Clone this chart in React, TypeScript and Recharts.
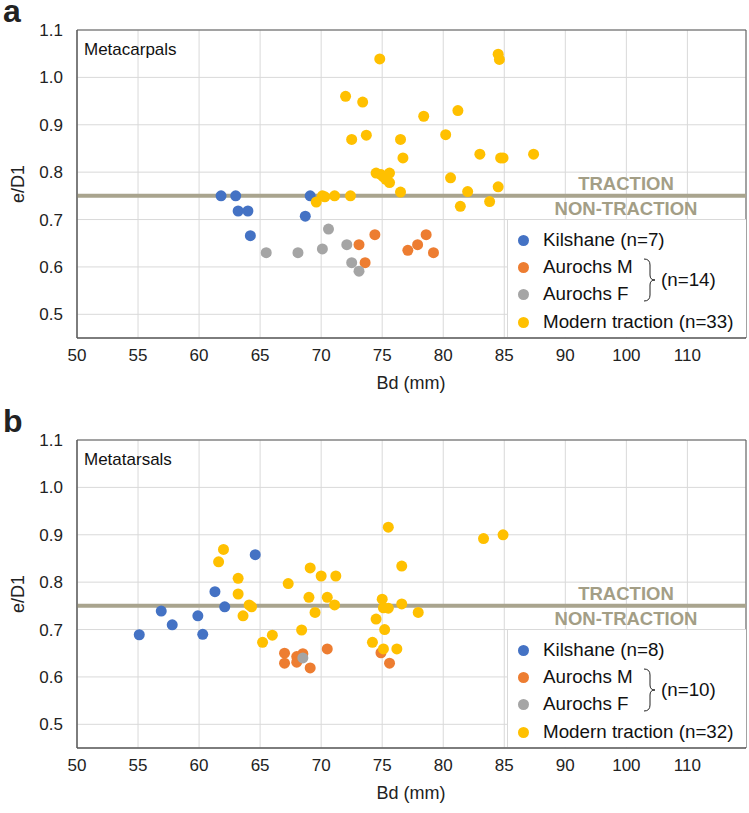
import React from 'react';
import {
  ScatterChart,
  Scatter,
  XAxis,
  YAxis,
  CartesianGrid,
  ReferenceLine,
  ReferenceArea,
} from 'recharts';

// 目盛り
const xTicks = [50, 55, 60, 65, 70, 75, 80, 85, 90, 95, 100];
const xTickLabels = ['50', '55', '60', '65', '70', '75', '80', '85', '90', '100', '110'];
const yTicks = [0.5, 0.6, 0.7, 0.8, 0.9, 1.0, 1.1];

// a: Metacarpals
const mcKilshane = [
  { x: 61.8, y: 0.75 }, { x: 63.0, y: 0.75 }, { x: 63.2, y: 0.718 }, { x: 64.0, y: 0.718 },
  { x: 64.2, y: 0.666 }, { x: 69.1, y: 0.75 }, { x: 68.7, y: 0.707 },
];
const mcAurochsM = [
  { x: 73.1, y: 0.647 }, { x: 73.6, y: 0.609 }, { x: 74.4, y: 0.668 }, { x: 77.1, y: 0.635 },
  { x: 77.9, y: 0.647 }, { x: 78.6, y: 0.668 }, { x: 79.2, y: 0.63 },
];
const mcAurochsF = [
  { x: 65.5, y: 0.63 }, { x: 68.1, y: 0.63 }, { x: 70.1, y: 0.638 }, { x: 70.6, y: 0.68 },
  { x: 72.1, y: 0.647 }, { x: 72.5, y: 0.609 }, { x: 73.1, y: 0.591 },
];
const mcModern = [
  { x: 74.8, y: 1.039 }, { x: 72.0, y: 0.96 }, { x: 73.4, y: 0.948 }, { x: 78.4, y: 0.918 },
  { x: 72.5, y: 0.869 }, { x: 73.7, y: 0.878 }, { x: 76.5, y: 0.869 }, { x: 76.7, y: 0.83 },
  { x: 74.5, y: 0.798 }, { x: 75.1, y: 0.79 }, { x: 75.6, y: 0.798 }, { x: 75.6, y: 0.778 },
  { x: 75.3, y: 0.785 }, { x: 74.9, y: 0.795 }, { x: 76.5, y: 0.758 }, { x: 69.6, y: 0.737 },
  { x: 70.1, y: 0.75 }, { x: 70.3, y: 0.748 }, { x: 71.1, y: 0.75 }, { x: 72.4, y: 0.75 },
  { x: 84.5, y: 1.049 }, { x: 84.6, y: 1.038 }, { x: 81.2, y: 0.93 }, { x: 80.2, y: 0.879 },
  { x: 83.0, y: 0.838 }, { x: 84.7, y: 0.83 }, { x: 84.9, y: 0.83 }, { x: 87.4, y: 0.838 },
  { x: 80.6, y: 0.788 }, { x: 82.0, y: 0.759 }, { x: 84.5, y: 0.769 }, { x: 81.4, y: 0.728 },
  { x: 83.8, y: 0.738 },
];

// b: Metatarsals
const mtKilshane = [
  { x: 55.1, y: 0.689 }, { x: 56.9, y: 0.739 }, { x: 57.8, y: 0.71 }, { x: 59.9, y: 0.729 },
  { x: 60.3, y: 0.69 }, { x: 61.3, y: 0.78 }, { x: 62.1, y: 0.748 }, { x: 64.6, y: 0.858 },
];
const mtAurochsM = [
  { x: 67.0, y: 0.65 }, { x: 67.0, y: 0.629 }, { x: 68.0, y: 0.643 }, { x: 68.0, y: 0.631 },
  { x: 68.5, y: 0.649 }, { x: 69.1, y: 0.619 }, { x: 70.5, y: 0.659 }, { x: 74.9, y: 0.651 },
  { x: 75.6, y: 0.629 },
];
const mtAurochsF = [{ x: 68.5, y: 0.64 }];
const mtModern = [
  { x: 62.0, y: 0.869 }, { x: 61.6, y: 0.843 }, { x: 63.2, y: 0.808 }, { x: 63.2, y: 0.775 },
  { x: 64.1, y: 0.752 }, { x: 64.3, y: 0.748 }, { x: 63.6, y: 0.729 }, { x: 67.3, y: 0.797 },
  { x: 65.2, y: 0.673 }, { x: 66.0, y: 0.688 }, { x: 68.4, y: 0.699 }, { x: 69.1, y: 0.83 },
  { x: 70.0, y: 0.813 }, { x: 71.2, y: 0.813 }, { x: 69.0, y: 0.768 }, { x: 70.5, y: 0.768 },
  { x: 71.1, y: 0.752 }, { x: 69.5, y: 0.736 }, { x: 75.5, y: 0.916 }, { x: 76.6, y: 0.834 },
  { x: 75.0, y: 0.764 }, { x: 75.1, y: 0.746 }, { x: 75.5, y: 0.745 }, { x: 76.6, y: 0.754 },
  { x: 77.95, y: 0.736 }, { x: 74.5, y: 0.722 }, { x: 75.2, y: 0.7 }, { x: 74.2, y: 0.673 },
  { x: 75.1, y: 0.659 }, { x: 76.2, y: 0.659 }, { x: 83.3, y: 0.892 }, { x: 84.9, y: 0.9 },
];

const COLORS = { kil: '#4472C4', am: '#ED7D31', af: '#A5A5A5', mod: '#FFC000' };
const LINE = '#a9a48e';
const FONT = '"Liberation Sans", Arial, sans-serif';
const X_MAX = 104.8;

const dot = (color: string) => (p: any) => <circle cx={p.cx} cy={p.cy} r={5.5} fill={color} />;

type PanelProps = {
  letter: string;
  title: string;
  kil: { x: number; y: number }[];
  am: { x: number; y: number }[];
  af: { x: number; y: number }[];
  mod: { x: number; y: number }[];
  kilLabel: string;
  aurochsN: string;
  modLabel: string;
  top: number;
};

const Panel = ({ letter, title, kil, am, af, mod, kilLabel, aurochsN, modLabel, top }: PanelProps) => {
  const legendRow = (color: string, label: string, y: number) => (
    <div style={{ position: 'absolute', left: 0, top: y, height: 20, display: 'flex', alignItems: 'center' }}>
      <span style={{ display: 'inline-block', width: 11, height: 11, borderRadius: '50%', background: color, marginLeft: 10 }} />
      <span style={{ marginLeft: 14, fontSize: 18.8, color: '#111', whiteSpace: 'nowrap' }}>{label}</span>
    </div>
  );

  return (
    <div style={{ position: 'absolute', left: 0, top, width: 749, height: 410, fontFamily: FONT }}>
      <ScatterChart width={749} height={400} margin={{ top: 30, right: 3, bottom: 0, left: 37 }}>
        <CartesianGrid stroke="#d9d9d9" />
        <XAxis
          type="number"
          dataKey="x"
          domain={[50, X_MAX]}
          ticks={xTicks}
          allowDataOverflow
          height={62}
          tickLine={false}
          tickSize={0}
          tickMargin={11}
          axisLine={{ stroke: '#595959' }}
          tick={{ fontSize: 17, fill: '#222', fontFamily: FONT }}
          tickFormatter={(v: number) => xTickLabels[xTicks.indexOf(v)] ?? String(v)}
        />
        <YAxis
          type="number"
          dataKey="y"
          domain={[0.45, 1.1]}
          ticks={yTicks}
          allowDataOverflow
          width={40}
          tickLine={false}
          tickSize={0}
          tickMargin={14}
          axisLine={{ stroke: '#595959' }}
          tick={{ fontSize: 17, fill: '#222', fontFamily: FONT }}
          tickFormatter={(v: number) => v.toFixed(1)}
        />
        <ReferenceArea x1={50} x2={X_MAX} y1={0.45} y2={1.1} fill="none" stroke="#595959" />
        <ReferenceLine y={0.75} stroke={LINE} strokeWidth={4} />
        <Scatter data={kil} shape={dot(COLORS.kil)} isAnimationActive={false} />
        <Scatter data={am} shape={dot(COLORS.am)} isAnimationActive={false} />
        <Scatter data={af} shape={dot(COLORS.af)} isAnimationActive={false} />
        <Scatter data={mod} shape={dot(COLORS.mod)} isAnimationActive={false} />
      </ScatterChart>

      {/* パネル文字・タイトル */}
      <div style={{ position: 'absolute', left: 3, top: 0, fontSize: 32, lineHeight: '22px', fontWeight: 'bold', color: '#222' }}>{letter}</div>
      <div style={{ position: 'absolute', left: 84, top: 40, fontSize: 17, color: '#111' }}>{title}</div>

      {/* 軸タイトル */}
      <div style={{ position: 'absolute', left: 411, top: 373, transform: 'translateX(-50%)', fontSize: 18, color: '#222', whiteSpace: 'nowrap' }}>Bd (mm)</div>
      <div style={{ position: 'absolute', left: 18, top: 184, transform: 'translate(-50%, -50%) rotate(-90deg)', fontSize: 18, color: '#222', whiteSpace: 'nowrap' }}>e/D1</div>

      {/* TRACTION / NON-TRACTION */}
      <div style={{ position: 'absolute', left: 626, top: 184, transform: 'translate(-50%, -50%)', fontSize: 18.5, fontWeight: 'bold', color: '#a39e86', whiteSpace: 'nowrap' }}>TRACTION</div>
      <div style={{ position: 'absolute', left: 626, top: 209, transform: 'translate(-50%, -50%)', fontSize: 18.5, fontWeight: 'bold', color: '#a39e86', whiteSpace: 'nowrap' }}>NON-TRACTION</div>

      {/* 凡例 */}
      <div style={{ position: 'absolute', left: 507, top: 219, width: 239, height: 118, background: '#fff', boxSizing: 'border-box', borderLeft: '1px solid #d9d9d9', borderTop: '1px solid #d9d9d9' }}>
        {legendRow(COLORS.kil, kilLabel, 10)}
        {legendRow(COLORS.am, 'Aurochs M', 37)}
        {legendRow(COLORS.af, 'Aurochs F', 64)}
        {legendRow(COLORS.mod, modLabel, 92)}
        <svg style={{ position: 'absolute', left: 134, top: 38 }} width={16} height={44}>
          <path d="M2 1 Q8 1 8 7 L8 17 Q8 22 13 22 Q8 22 8 27 L8 37 Q8 43 2 43" fill="none" stroke="#222" strokeWidth={1} />
        </svg>
        <div style={{ position: 'absolute', left: 153, top: 49, fontSize: 18.8, color: '#111', whiteSpace: 'nowrap' }}>{aurochsN}</div>
      </div>
    </div>
  );
};

export default function App() {
  return (
    <div style={{ position: 'absolute', left: 0, top: 0, width: 749, height: 813, background: '#fff' }}>
      <Panel
        letter="a"
        title="Metacarpals"
        kil={mcKilshane}
        am={mcAurochsM}
        af={mcAurochsF}
        mod={mcModern}
        kilLabel="Kilshane (n=7)"
        aurochsN="(n=14)"
        modLabel="Modern traction (n=33)"
        top={0}
      />
      <Panel
        letter="b"
        title="Metatarsals"
        kil={mtKilshane}
        am={mtAurochsM}
        af={mtAurochsF}
        mod={mtModern}
        kilLabel="Kilshane (n=8)"
        aurochsN="(n=10)"
        modLabel="Modern traction (n=32)"
        top={410}
      />
    </div>
  );
}
